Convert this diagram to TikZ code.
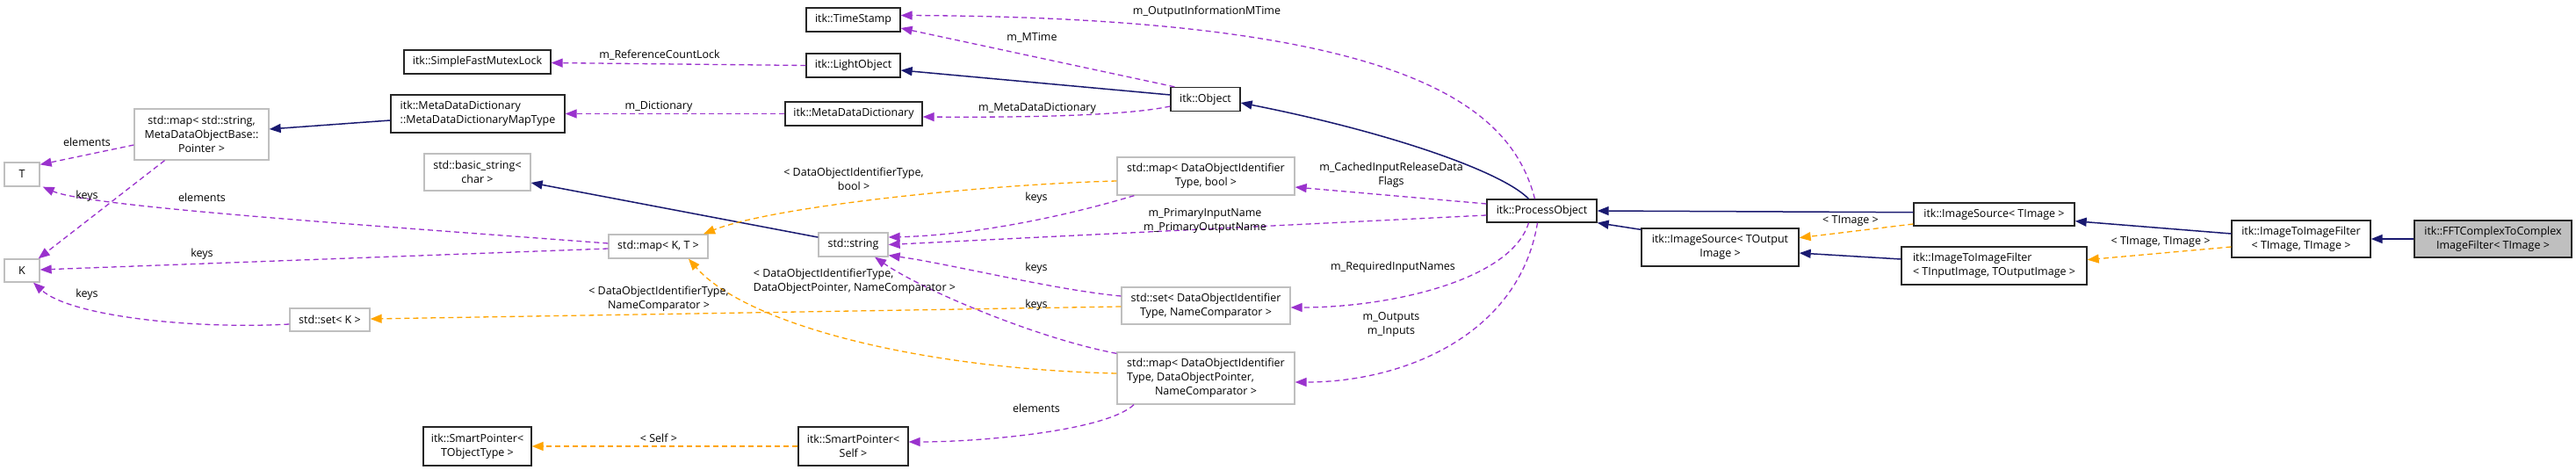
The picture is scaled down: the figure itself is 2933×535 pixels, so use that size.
\documentclass[tikz,border=0pt]{standalone}
\usepackage{fontspec}
\setmainfont{Open Sans}
\usetikzlibrary{arrows.meta}
\definecolor{inhc}{HTML}{191970}
\definecolor{usec}{HTML}{9A32CD}
\definecolor{tplc}{HTML}{FFA500}
\definecolor{gbord}{HTML}{BFBFBF}
\begin{document}
\begin{tikzpicture}[x=1pt,y=-1pt,
  font=\fontsize{12.5}{16}\selectfont,
  cls/.style={draw=black!85, line width=1.3pt, fill=white, inner sep=0pt, align=center},
  ext/.style={draw=gbord, line width=1.3pt, fill=white, inner sep=0pt, align=center},
  lbl/.style={inner sep=0pt, align=center},
  tip/.style={-{Triangle[length=13pt,width=10pt]}},
  inhe/.style={tip, draw=inhc, line width=1.5pt},
  usee/.style={tip, draw=usec, line width=1.3pt, dash pattern=on 6pt off 4pt},
  tple/.style={tip, draw=tplc, line width=1.3pt, dash pattern=on 6pt off 4pt}
]
\fill[white] (0,0) rectangle (2933,535);
\useasboundingbox (0,0) rectangle (2933,535);

% nodes
\node[cls, minimum width=107, minimum height=27] (ts) at (971.5,22.5) {itk::TimeStamp};
\node[cls, minimum width=167, minimum height=27] (sfml) at (543.5,70.5) {itk::SimpleFastMutexLock};
\node[cls, minimum width=107, minimum height=27] (lo) at (971.5,74.5) {itk::LightObject};
\node[cls, minimum width=198, minimum height=43, align=left] (mdmt) at (544,129.5) {itk::MetaDataDictionary\\::MetaDataDictionaryMapType};
\node[cls, minimum width=156, minimum height=27] (mdd) at (972,129.5) {itk::MetaDataDictionary};
\node[cls, minimum width=79, minimum height=27] (obj) at (1372.5,113) {itk::Object};
\node[ext, minimum width=153, minimum height=58] (smap) at (229.5,153) {std::map< std::string,\\MetaDataObjectBase::\\Pointer >};
\node[ext, minimum width=40, minimum height=27] (t) at (25,198.5) {T};
\node[ext, minimum width=40, minimum height=26] (k) at (25,308) {K};
\node[ext, minimum width=121, minimum height=42] (bs) at (543.5,196) {std::basic\_string<\\char >};
\node[ext, minimum width=202, minimum height=43] (mapb) at (1373,200.5) {std::map< DataObjectIdentifier\\Type, bool >};
\node[cls, minimum width=125, minimum height=26] (po) at (1755.5,240) {itk::ProcessObject};
\node[ext, minimum width=79, minimum height=27] (str) at (971.5,278.5) {std::string};
\node[ext, minimum width=113, minimum height=27] (mkt) at (749.5,280.5) {std::map< K, T >};
\node[ext, minimum width=91, minimum height=26] (setk) at (375.5,364) {std::set< K >};
\node[ext, minimum width=192, minimum height=42] (setd) at (1373,348) {std::set< DataObjectIdentifier\\Type, NameComparator >};
\node[ext, minimum width=202, minimum height=59] (mapd) at (1373,430.5) {\begin{tabular}{@{}l@{}}std::map< DataObjectIdentifier\\Type, DataObjectPointer,\\\multicolumn{1}{@{}c@{}}{NameComparator >}\end{tabular}};
\node[cls, minimum width=123, minimum height=44] (spt) at (543.5,508) {itk::SmartPointer<\\TObjectType >};
\node[cls, minimum width=125, minimum height=44] (sps) at (971.5,508) {itk::SmartPointer<\\Self >};
\node[cls, minimum width=183, minimum height=26] (ist) at (2270.5,244) {itk::ImageSource< TImage >};
\node[cls, minimum width=179, minimum height=43] (iso) at (1958.5,281.5) {itk::ImageSource< TOutput\\Image >};
\node[cls, minimum width=211, minimum height=43, align=left] (itio) at (2270.5,302.5) {itk::ImageToImageFilter\\< TInputImage, TOutputImage >};
\node[cls, minimum width=158, minimum height=42] (itt) at (2620,272) {itk::ImageToImageFilter\\< TImage, TImage >};
\node[cls, fill=gbord, minimum width=179, minimum height=42] (fft) at (2838.5,272) {itk::FFTComplexToComplex\\ImageFilter< TImage >};

% edges
\draw[inhe] ([shift={(0,-5)}]obj.west) -- ([shift={(0,5.5)}]lo.east);
\draw[usee] (lo.west) -- ([shift={(0,1)}]sfml.east);
\draw[usee] ([shift={(5,0)}]obj.north west) -- ([shift={(0,9.5)}]ts.east);
\draw[usee] ([shift={(0,8)}]obj.west) .. controls (1290,130) and (1200,134) .. ([shift={(0,3.5)}]mdd.east);
\draw[usee] (mdd.west) -- (mdmt.east);
\draw[inhe] ([shift={(0,7.5)}]mdmt.west) -- ([shift={(0,-6)}]smap.east);
\draw[usee] ([shift={(0,12)}]smap.west) -- ([shift={(0,3)}]t.north east);
\draw[usee] ([shift={(-42,0)}]smap.south) -- ([shift={(-2,0)}]k.north east);
\draw[usee] ([shift={(0,2.5)}]mkt.west) -- ([shift={(0,-1)}]k.east);
\draw[usee] ([shift={(0,-3.5)}]mkt.west) .. controls (400,255) and (100,235) .. ([shift={(3,0)}]t.south east);
\draw[usee] ([shift={(0,5)}]setk.west) .. controls (220,375) and (80,360) .. ([shift={(13,0)}]k.south);
\draw[inhe] ([shift={(0,5.7)}]str.north west) -- ([shift={(0,12)}]bs.east);
\draw[usee] ([shift={(20,0)}]mapb.south west) .. controls (1200,250) and (1100,268) .. ([shift={(0,-8.5)}]str.east);
\draw[tple] ([shift={(0,5.5)}]mapb.west) .. controls (1120,210) and (880,235) .. ([shift={(51.5,0)}]mkt.north);
\draw[usee] ([shift={(0,5)}]po.west) -- (str.east);
\draw[usee] ([shift={(0,-8)}]po.west) -- ([shift={(0,12.5)}]mapb.east);
\draw[usee] ([shift={(-15,0)}]po.south) .. controls (1720,320) and (1580,350) .. ([shift={(0,2)}]setd.east);
\draw[usee] ([shift={(-5,0)}]po.south) .. controls (1730,380) and (1600,435) .. ([shift={(0,4.5)}]mapd.east);
\draw[usee] ([shift={(0,-11)}]setd.west) .. controls (1200,330) and (1080,300) .. ([shift={(0,-2)}]str.south east);
\draw[tple] ([shift={(0,1)}]setd.west) -- ([shift={(0,-1)}]setk.east);
\draw[usee] ([shift={(0,2)}]mapd.north west) .. controls (1180,385) and (1050,330) .. ([shift={(24.5,0)}]str.south);
\draw[tple] ([shift={(0,-5.5)}]mapd.west) .. controls (1050,420) and (850,370) .. ([shift={(34.5,0)}]mkt.south);
\draw[usee] ([shift={(-82,0)}]mapd.south) .. controls (1260,490) and (1120,503) .. ([shift={(0,-5)}]sps.east);
\draw[tple] (sps.west) -- (spt.east);
\draw[inhe] ([shift={(-15,0)}]po.north) .. controls (1710,195) and (1580,150) .. ([shift={(0,4)}]obj.east);
\draw[usee] ([shift={(-8,0)}]po.north) .. controls (1720,120) and (1600,20) .. ([shift={(0,-5)}]ts.east);
\draw[inhe] ([shift={(0,-2.3)}]ist.west) -- (po.east);
\draw[inhe] ([shift={(0,2)}]iso.north west) -- (po.south east);
\draw[tple] ([shift={(0,11)}]ist.west) -- ([shift={(0,-10.8)}]iso.east);
\draw[inhe] ([shift={(0,-7.5)}]itio.west) -- ([shift={(0,6.5)}]iso.east);
\draw[inhe] ([shift={(0,-6)}]itt.west) -- ([shift={(0,7.7)}]ist.east);
\draw[tple] ([shift={(0,9)}]itt.west) -- ([shift={(0,-6.8)}]itio.east);
\draw[inhe] (fft.west) -- (itt.east);

% labels
\node[lbl] (l1) at (751,63) {m\_ReferenceCountLock};
\node[lbl] (l2) at (1175,43) {m\_MTime};
\node[lbl] (l3) at (1374,13) {m\_OutputInformationMTime};
\node[lbl] (l4) at (1181,123) {m\_MetaDataDictionary};
\node[lbl] (l5) at (750,121) {m\_Dictionary};
\node[lbl] (l6) at (99,162) {elements};
\node[lbl] (l7) at (99,223) {keys};
\node[lbl] (l8) at (230,225) {elements};
\node[lbl] (l9) at (230,289) {keys};
\node[lbl] (l10) at (99,335) {keys};
\node[lbl] (l11) at (972,204) {< DataObjectIdentifierType,\\bool >};
\node[lbl] (l12) at (1180,225) {keys};
\node[lbl] (l13) at (1372,251) {m\_PrimaryInputName\\m\_PrimaryOutputName};
\node[lbl] (l14) at (1584,199) {m\_CachedInputReleaseData\\Flags};
\node[lbl] (l15) at (1586,304) {m\_RequiredInputNames};
\node[lbl] (l16) at (1584,369) {m\_Outputs\\m\_Inputs};
\node[lbl] (l17) at (1180,305) {keys};
\node[lbl] (l18) at (1180,347) {keys};
\node[lbl, align=left] (l19) at (973,320) {< DataObjectIdentifierType,\\DataObjectPointer, NameComparator >};
\node[lbl] (l20) at (750,340) {< DataObjectIdentifierType,\\NameComparator >};
\node[lbl] (l21) at (1180,465) {elements};
\node[lbl] (l22) at (750,499) {< Self >};
\node[lbl] (l23) at (2107,252) {< TImage >};
\node[lbl] (l24) at (2460,276) {< TImage, TImage >};
\end{tikzpicture}
\end{document}
